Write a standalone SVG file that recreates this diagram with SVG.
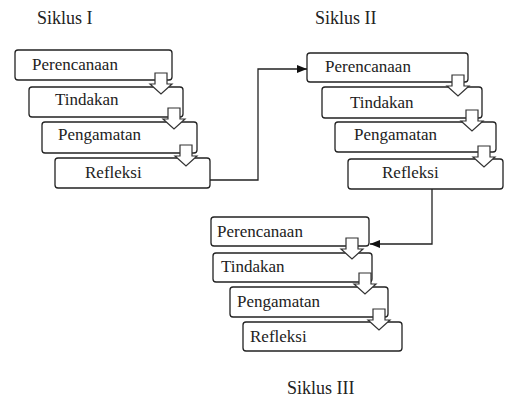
<svg xmlns="http://www.w3.org/2000/svg" width="505" height="398" viewBox="0 0 505 398">
<style>
  .box{fill:#fff;stroke:#222;stroke-width:1.3}
  text{font-family:'Liberation Serif','Tinos','DejaVu Serif',serif;fill:#222}
  .t{font-size:17px}
  .title{font-size:18px}
  .conn{fill:none;stroke:#222;stroke-width:1.3}
  .blk{fill:#fff;stroke:#333;stroke-width:1.2;stroke-linejoin:miter}
</style>
<defs>
  <marker id="ah" markerWidth="10" markerHeight="8" refX="10" refY="4" orient="auto" markerUnits="userSpaceOnUse">
    <path d="M0,0 L10,4 L0,8 Z" fill="#111"/>
  </marker>
  <path id="blk" d="M-6,0 H6 V11 H11 L0,21 L-11,11 H-6 Z"/>
</defs>
<rect width="505" height="398" fill="#fff"/>

<text class="title" x="37" y="24" font-family="Liberation Serif, DejaVu Serif, serif">Siklus I</text>
<text class="title" x="315" y="24" font-family="Liberation Serif, DejaVu Serif, serif">Siklus II</text>
<text class="title" x="287" y="394" font-family="Liberation Serif, DejaVu Serif, serif">Siklus III</text>

<g id="s1-perencanaan"><rect class="box" x="15" y="50" width="157" height="30" rx="3"/><text class="t" x="32" y="70">Perencanaan</text></g>
<g id="s1-tindakan"><rect class="box" x="29" y="87" width="154" height="30" rx="3"/><text class="t" x="55" y="105">Tindakan</text></g>
<g id="s1-pengamatan"><rect class="box" x="42" y="122" width="155" height="31" rx="3"/><text class="t" x="58" y="140">Pengamatan</text></g>
<g id="s1-refleksi"><rect class="box" x="55" y="158" width="155" height="30" rx="3"/><text class="t" x="85" y="178">Refleksi</text></g>

<g id="s2-perencanaan"><rect class="box" x="307" y="53" width="161" height="29" rx="3"/><text class="t" x="325" y="72">Perencanaan</text></g>
<g id="s2-tindakan"><rect class="box" x="322" y="87" width="160" height="31" rx="3"/><text class="t" x="350" y="108">Tindakan</text></g>
<g id="s2-pengamatan"><rect class="box" x="335" y="122" width="161" height="30" rx="3"/><text class="t" x="354" y="140">Pengamatan</text></g>
<g id="s2-refleksi"><rect class="box" x="348" y="159" width="155" height="30" rx="3"/><text class="t" x="382" y="178">Refleksi</text></g>

<g id="s3-perencanaan"><rect class="box" x="211" y="217" width="158" height="29" rx="3"/><text class="t" x="217" y="237">Perencanaan</text></g>
<g id="s3-tindakan"><rect class="box" x="213" y="253" width="159" height="29" rx="3"/><text class="t" x="221" y="272">Tindakan</text></g>
<g id="s3-pengamatan"><rect class="box" x="230" y="287" width="158" height="30" rx="3"/><text class="t" x="237" y="307">Pengamatan</text></g>
<g id="s3-refleksi"><rect class="box" x="243" y="322" width="159" height="29" rx="3"/><text class="t" x="250" y="342">Refleksi</text></g>

<g id="connectors">
  <path class="conn" d="M210,180 H258 V69 H307" marker-end="url(#ah)"/>
  <path class="conn" d="M432,189 V244 H370" marker-end="url(#ah)"/>
  <use href="#blk" class="blk" x="161" y="73"/>
  <use href="#blk" class="blk" x="174" y="108"/>
  <use href="#blk" class="blk" x="186" y="145"/>
  <use href="#blk" class="blk" x="458" y="75"/>
  <use href="#blk" class="blk" x="472" y="110"/>
  <use href="#blk" class="blk" x="484" y="146"/>
  <use href="#blk" class="blk" x="352" y="238"/>
  <use href="#blk" class="blk" x="365" y="273"/>
  <use href="#blk" class="blk" x="379" y="309"/>
</g>
</svg>
